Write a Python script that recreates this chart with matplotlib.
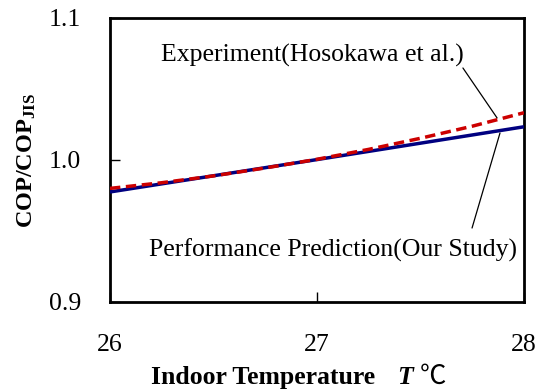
import matplotlib
matplotlib.use("Agg")
import matplotlib.pyplot as plt

plt.rcParams['font.family'] = ['Liberation Serif', 'DejaVu Serif']
plt.rcParams['mathtext.fontset'] = 'custom'
plt.rcParams['mathtext.rm'] = 'Liberation Serif'
plt.rcParams['mathtext.bf'] = 'Liberation Serif:bold'
plt.rcParams['mathtext.it'] = 'Liberation Serif:italic'

# Data
temp_pred = [26, 27, 28]
cop_pred = [0.9775, 1.0003, 1.0234]
temp_exp = [26.0, 26.25, 26.5, 26.75, 27.0, 27.25, 27.5, 27.75, 28.0]
cop_exp = [0.980, 0.984, 0.9888, 0.9944, 1.0005, 1.0075, 1.0153, 1.0238, 1.0333]
xticks = [26, 27, 28]
yticks = [0.9, 1.0, 1.1]
ytick_labels = ["0.9", "1.0", "1.1"]

FS = 18.5

fig = plt.figure(figsize=(5.38, 3.89), dpi=100)
ax = fig.add_axes([110/538, 1-302/389, 414/538, 284/389])

ax.plot(temp_pred, cop_pred, color='#000080', lw=2.5, solid_capstyle='butt', zorder=3)
ax.plot(temp_exp, cop_exp, color='#CC0000', lw=2.5, dashes=(3, 1.6), zorder=4)

ax.set_xlim(26, 28)
ax.set_ylim(0.9, 1.1)
ax.set_xticks(xticks)
ax.set_yticks(yticks)
ax.set_yticklabels(ytick_labels)
ax.tick_params(axis='both', direction='in', length=7, width=1, labelsize=FS, colors='black')
ax.tick_params(axis='y', pad=21)
ax.tick_params(axis='x', pad=23)
for s in ax.spines.values():
    s.set_linewidth(2)

ax.set_ylabel('COP/COP$_{\\mathbf{JIS}}$', fontsize=17.5, fontweight='bold')
ax.yaxis.set_label_coords(-0.174, 0.5)

# Annotation texts
ax.text(26.978, 1.069, 'Experiment(Hosokawa et al.)', fontsize=FS, ha='center', va='baseline')
ax.text(27.075, 0.9317, 'Performance Prediction(Our Study)', fontsize=FS, ha='center', va='baseline')
# Leader lines
ax.annotate('', xy=(27.870, 1.0296), xytext=(27.705, 1.0648),
            arrowprops=dict(arrowstyle='-', color='black', lw=0.9, shrinkA=0, shrinkB=0))
ax.annotate('', xy=(27.884, 1.019), xytext=(27.749, 0.9521),
            arrowprops=dict(arrowstyle='-', color='black', lw=0.9, shrinkA=0, shrinkB=0))

# x label pieces
fig.text(263.5/538, 1-384/389, 'Indoor Temperature', fontsize=FS, fontweight='bold',
         ha='center', va='baseline')
fig.text(405/538, 1-384/389, 'T', fontsize=FS, fontweight='bold', style='italic',
         ha='center', va='baseline')
fig.text(433/538, 1-384/389, '℃', fontsize=19, ha='center', va='baseline',
         family=['Noto Sans CJK JP', 'DejaVu Sans'])

fig.savefig('out.png', dpi=100)
